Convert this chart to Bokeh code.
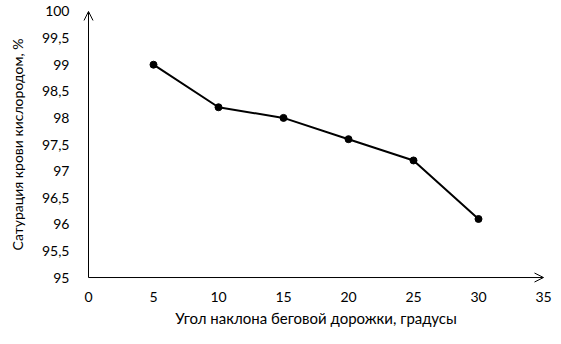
from bokeh.plotting import figure
from bokeh.models import Range1d, FixedTicker, CustomJSTickFormatter, Arrow, OpenHead
from bokeh.embed import file_html
from bokeh.resources import INLINE

# data
angle = [5, 10, 15, 20, 25, 30]
saturation = [99.0, 98.2, 98.0, 97.6, 97.2, 96.1]
x_ticks = [0, 5, 10, 15, 20, 25, 30, 35]
y_ticks = [95, 95.5, 96, 96.5, 97, 97.5, 98, 98.5, 99, 99.5, 100]
x_title = "Угол наклона беговой дорожки, градусы"
y_title = "Сатурация крови кислородом, %"

FONT = "Lato"

p = figure(width=561, height=344, output_backend="svg", toolbar_location=None,
           x_range=Range1d(-1, 36), y_range=Range1d(94.85, 100.15),
           min_border_left=75, min_border_right=5, min_border_top=3, min_border_bottom=59)
p.outline_line_color = None
p.xgrid.visible = False
p.ygrid.visible = False
p.background_fill_color = "white"
p.border_fill_color = "white"

for ax in (p.xaxis[0], p.yaxis[0]):
    ax.major_tick_line_color = None
    ax.minor_tick_line_color = None
    ax.axis_line_color = None
    ax.major_label_text_font = FONT
    ax.major_label_text_font_size = "14px"
    ax.major_label_text_color = "black"
    ax.axis_label_text_font = FONT
    ax.axis_label_text_font_size = "14px"
    ax.axis_label_text_font_style = "normal"
    ax.axis_label_text_color = "black"

p.xaxis.axis_label_text_font_size = "15px"
p.xaxis.ticker = FixedTicker(ticks=x_ticks)
p.yaxis.ticker = FixedTicker(ticks=y_ticks)
p.yaxis.formatter = CustomJSTickFormatter(code="return String(tick).replace('.', ',');")
p.xaxis.major_label_standoff = 0
p.yaxis.major_label_standoff = 0
p.xaxis.axis_label = x_title
p.yaxis.axis_label = y_title
p.xaxis.axis_label_standoff = 4
p.yaxis.axis_label_standoff = 13

# axis arrows
p.add_layout(Arrow(end=OpenHead(size=9, line_width=1, line_color="black"),
                   x_start=x_ticks[0], y_start=y_ticks[0], x_end=x_ticks[-1], y_end=y_ticks[0],
                   line_color="black", line_width=1))
p.add_layout(Arrow(end=OpenHead(size=9, line_width=1, line_color="black"),
                   x_start=x_ticks[0], y_start=y_ticks[0], x_end=x_ticks[0], y_end=y_ticks[-1],
                   line_color="black", line_width=1))

p.line(angle, saturation, line_color="black", line_width=2)
p.scatter(angle, saturation, size=7, fill_color="black", line_color="black")

open("out.html", "w").write(file_html(p, INLINE))
